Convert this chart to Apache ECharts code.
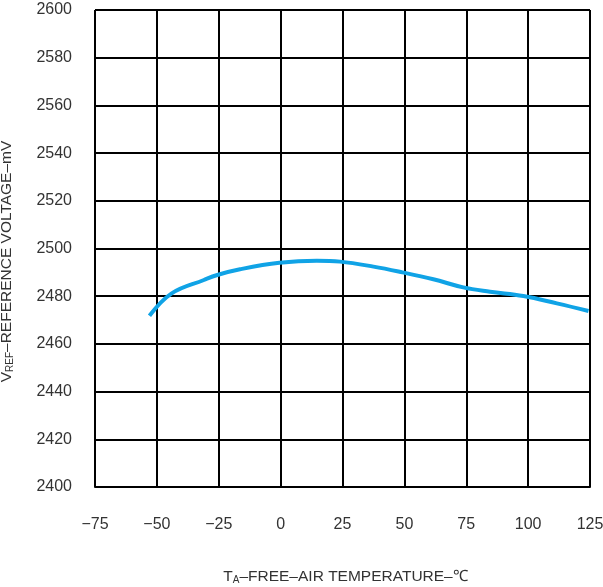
<!DOCTYPE html>
<html><head><meta charset="utf-8">
<script src="https://cdn.jsdelivr.net/npm/echarts@6/dist/echarts.min.js"></script>
<style>html,body{margin:0;padding:0;background:#fff}#c{width:603px;height:587px}</style>
</head><body><div id="c"></div>
<script>
const temps = [-53, -44, -31, -25.6, -16.4, -0.5, 14.6, 24, 37.5, 49.2, 61.7, 73.8, 84.6, 98.1, 111.6, 124.4];
const vref  = [2471.8, 2481.2, 2486.8, 2488.9, 2491.3, 2494.0, 2494.9, 2494.5, 2492.4, 2490.0, 2487.1, 2483.7, 2481.9, 2480.1, 2477.0, 2473.8];
const xTicks = [-75, 125, 25];
const yTicks = [2400, 2600, 20];

const chart = echarts.init(document.getElementById('c'));
const font = 'Liberation Sans, Arial, sans-serif';
const rich = {
  n: {fontSize: 15.5, color: '#333', fontFamily: font},
  s: {fontSize: 10, color: '#333', fontFamily: font, verticalAlign: 'bottom', padding: [7,0,0,0]}
};
chart.setOption({
  animation: false,
  grid: {left: 95, right: 13, top: 10, bottom: 100, outerBoundsMode: 'none', containLabel: false},
  xAxis: {
    type: 'value', min: xTicks[0], max: xTicks[1], interval: xTicks[2],
    axisLine: {show: true, onZero: false, lineStyle: {color: '#000', width: 2}},
    axisTick: {show: false},
    splitLine: {show: true, lineStyle: {color: '#000', width: 2}},
    axisLabel: {margin: 30, color: '#333', fontSize: 16, fontFamily: font,
      formatter: v => String(v).replace('-', '\u2212')},
    name: '{n|T}{s|A}{n|\u2013FREE\u2013AIR TEMPERATURE\u2013\u2103}',
    nameLocation: 'middle', nameGap: 81,
    nameTextStyle: {rich: rich, padding: [0, 0, 0, 6]}
  },
  yAxis: {
    type: 'value', min: yTicks[0], max: yTicks[1], interval: yTicks[2],
    axisLine: {show: true, lineStyle: {color: '#000', width: 2}},
    axisTick: {show: false},
    splitLine: {show: true, lineStyle: {color: '#000', width: 2}},
    axisLabel: {margin: 23, color: '#333', fontSize: 16, fontFamily: font,
      formatter: v => String(v)},
    name: '{n|V}{s|REF}{n|\u2013REFERENCE VOLTAGE\u2013mV}',
    nameLocation: 'middle', nameGap: 80, nameRotate: 90,
    nameTextStyle: {rich: rich, padding: [0, 26, 0, 0]}
  },
  series: [{
    type: 'line', smooth: 0.4, symbol: 'none',
    data: temps.map((t, i) => [t, vref[i]]),
    lineStyle: {color: '#10a3e6', width: 4}
  }]
});
</script></body></html>
